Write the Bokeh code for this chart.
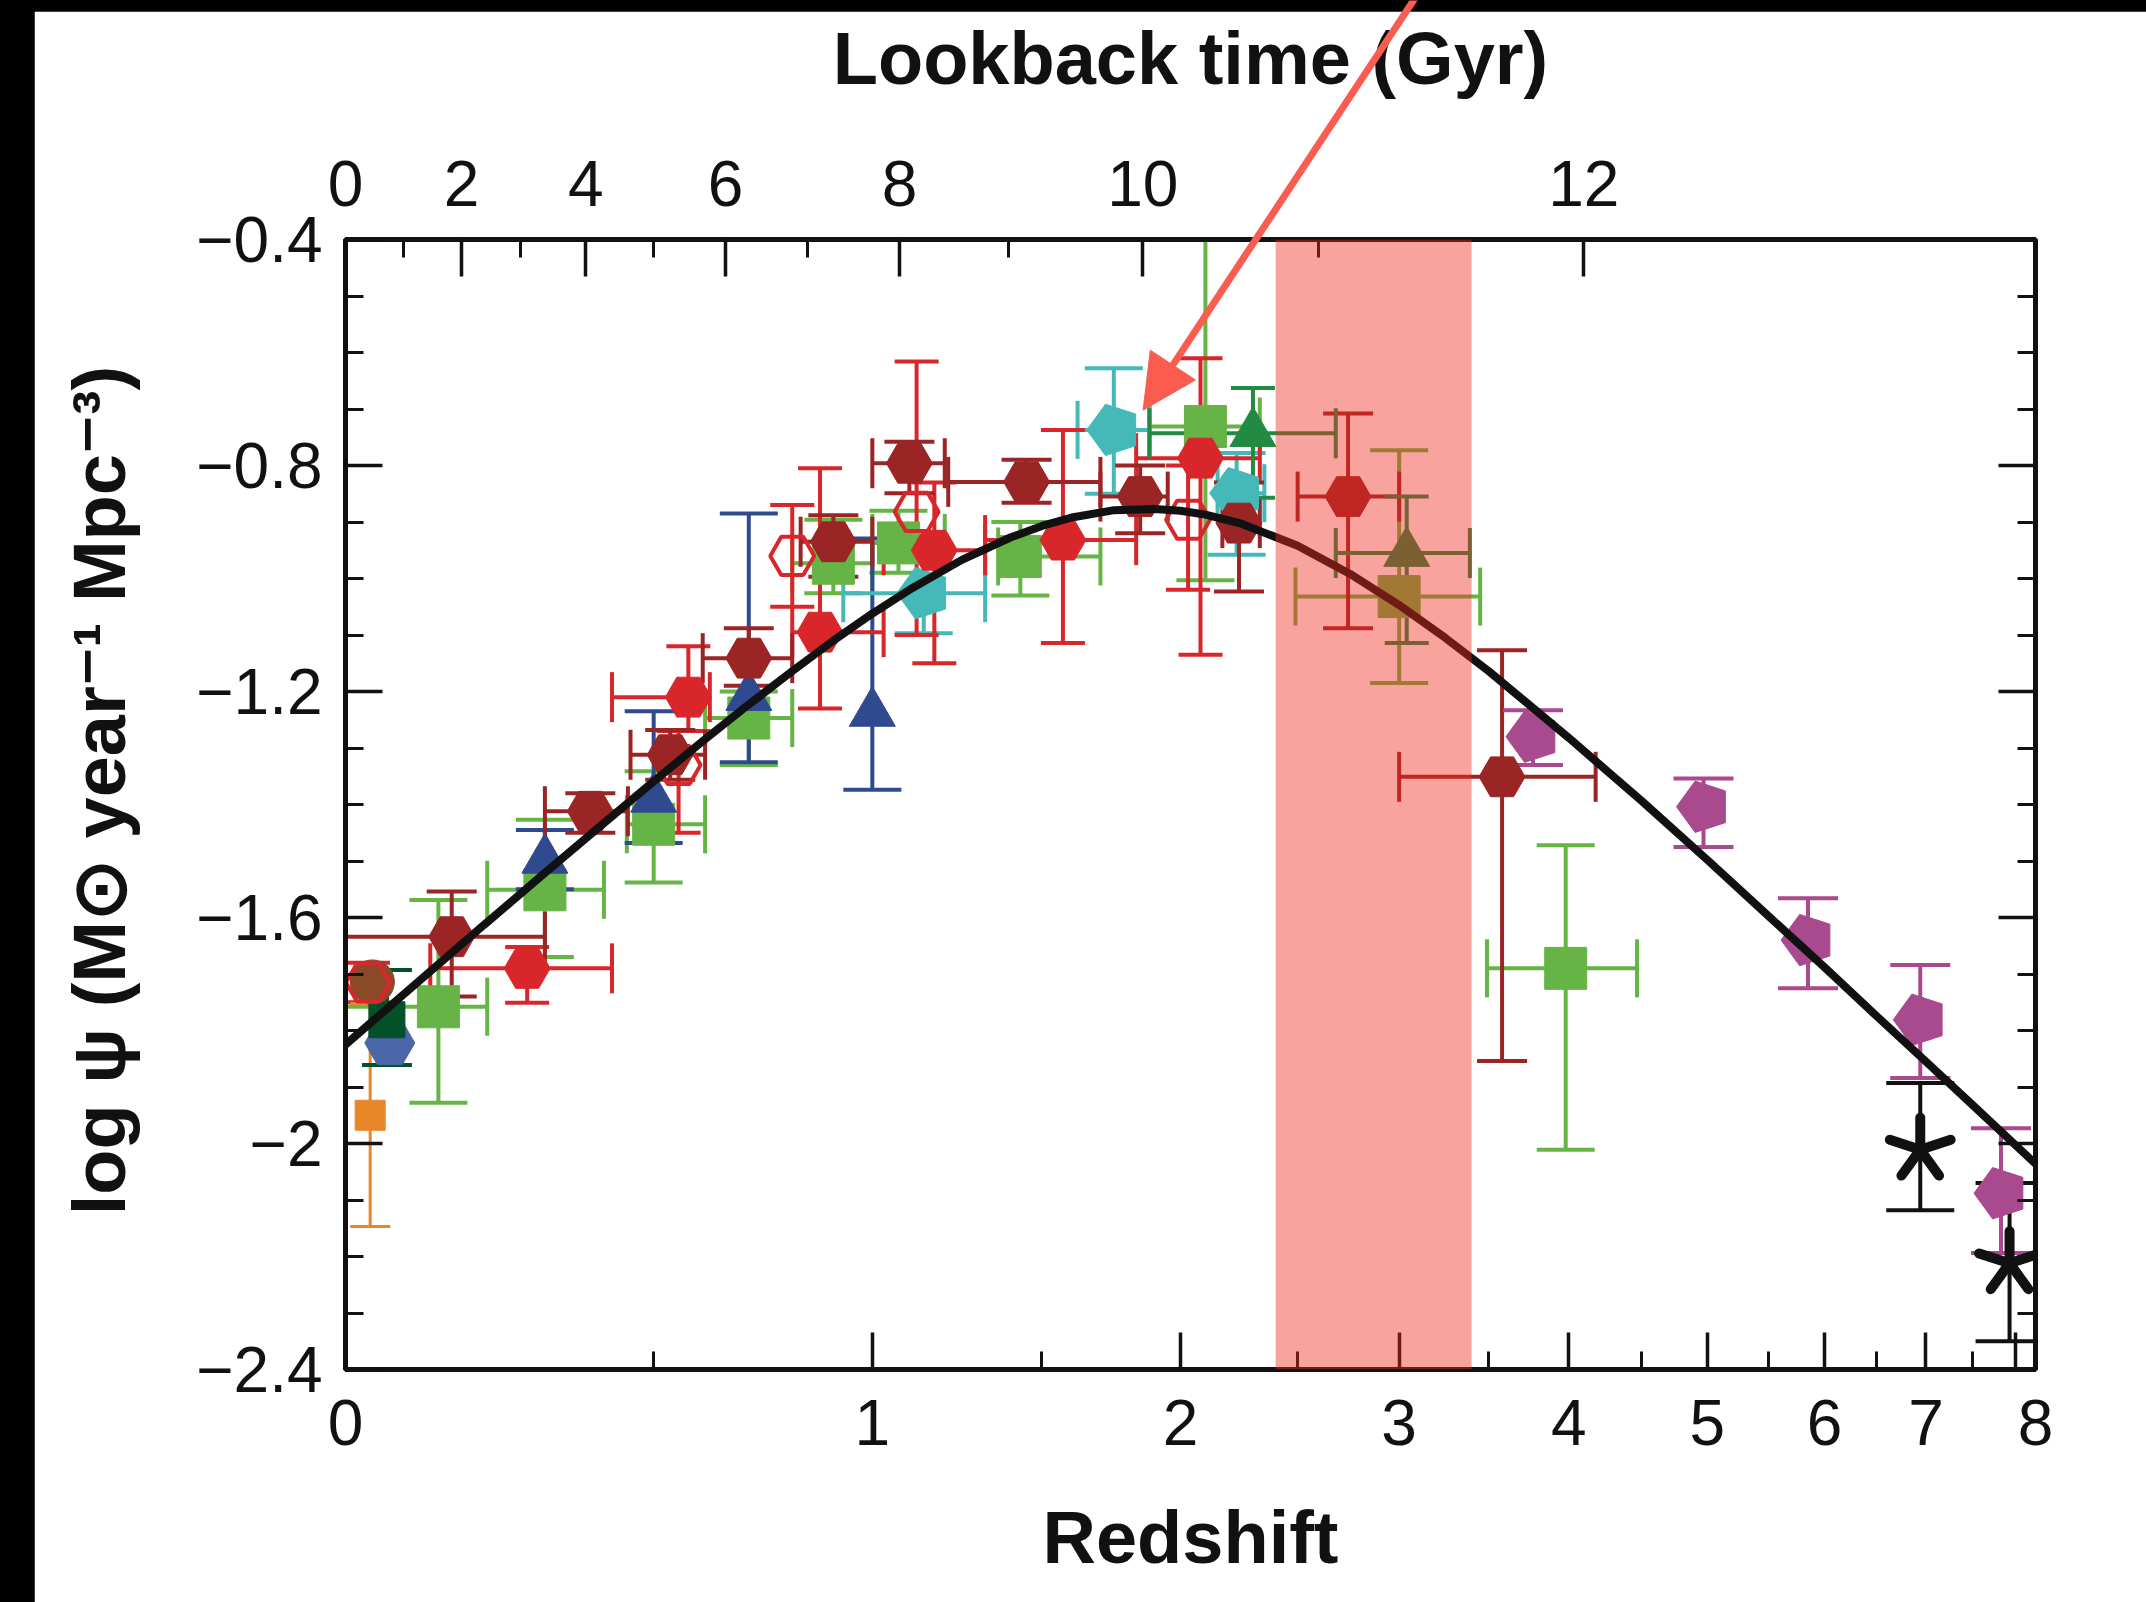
import numpy as np
from bokeh.plotting import figure
from bokeh.models import Range1d, LinearAxis, FixedTicker, BoxAnnotation, Arrow, NormalHead
from bokeh.layouts import row
from bokeh.embed import file_html
from bokeh.resources import INLINE

# ---------------- data (redshift z, log psi, error-bar ends) ----------------
# dark red filled hexagons
DKRED_Z = [0.15, 0.38, 0.533, 0.70, 0.90, 1.10, 1.45, 1.845, 2.24, 2.74, 3.58]
DKRED_PSI = [-1.634, -1.412, -1.312, -1.141, -0.935, -0.796, -0.829, -0.855, -0.902, -0.855, -1.351]
DKRED_Z_LO = [0.0, 0.30, 0.455, 0.60, 0.82, 1.0, 1.21, 1.70, 2.17, 2.5, 3.0]
DKRED_Z_HI = [0.30, 0.45, 0.605, 0.80, 1.0, 1.2, 1.70, 1.95, 2.33, 3.0, 4.18]
DKRED_PSI_LO = [-1.74, -1.45, -1.356, -1.19, -0.997, -0.849, -0.866, -0.92, -1.023, -1.088, -1.854]
DKRED_PSI_HI = [-1.554, -1.38, -1.268, -1.088, -0.888, -0.758, -0.79, -0.80, -0.83, -0.708, -1.127]

# red filled hexagons
RED_Z = [0.27, 0.57, 0.867, 1.17, 1.57, 2.08]
RED_PSI = [-1.69, -1.21, -1.095, -0.95, -0.932, -0.787]
RED_Z_LO = [0.118, 0.42, 0.80, 1.03, 1.32, 1.83]
RED_Z_HI = [0.42, 0.615, 1.03, 1.32, 1.83, 2.33]
RED_PSI_LO = [-1.751, -1.27, -1.23, -1.15, -1.114, -1.135]
RED_PSI_HI = [-1.652, -1.12, -0.805, -0.83, -0.737, -0.61]

# red open hexagons
REDOPEN_Z = [0.03, 0.55, 0.80, 1.12, 2.03]
REDOPEN_PSI = [-1.715, -1.33, -0.96, -0.882, -0.896]
REDOPEN_PSI_LO = [-1.75, -1.45, -1.05, -1.10, -1.02]
REDOPEN_PSI_HI = [-1.68, -1.27, -0.87, -0.616, -0.80]

# green squares
GREEN_Z = [0.13, 0.30, 0.50, 0.70, 0.90, 1.07, 1.43, 2.10, 3.0, 3.98]
GREEN_PSI = [-1.758, -1.551, -1.435, -1.247, -0.973, -0.937, -0.961, -0.731, -1.032, -1.69]
GREEN_Z_LO = [0.0, 0.205, 0.448, 0.605, 0.80, 1.0, 1.36, 1.88, 2.49, 3.49]
GREEN_Z_HI = [0.205, 0.405, 0.605, 0.80, 1.0, 1.2, 1.70, 2.33, 3.45, 4.47]
GREEN_PSI_LO = [-1.928, -1.67, -1.538, -1.33, -1.026, -0.99, -1.03, -1.003, -1.185, -2.011]
GREEN_PSI_HI = [-1.569, -1.427, -1.341, -1.2, -0.896, -0.88, -0.90, -0.35, -0.773, -1.472]

# blue triangles
BLUE_Z = [0.30, 0.50, 0.70, 1.0]
BLUE_PSI = [-1.498, -1.39, -1.21, -1.238]
BLUE_PSI_LO = [-1.55, -1.468, -1.325, -1.374]
BLUE_PSI_HI = [-1.445, -1.235, -0.885, -0.929]

# cyan pentagons
CYAN_Z = [1.14, 1.748, 2.23]
CYAN_PSI = [-1.026, -0.737, -0.849]
CYAN_Z_LO = [0.925, 1.62, 2.15]
CYAN_Z_HI = [1.32, 1.88, 2.35]
CYAN_PSI_LO = [-1.097, -0.85, -0.958]
CYAN_PSI_HI = [-0.96, -0.628, -0.778]

# dark green triangles
DKGREEN_Z = [2.30, 3.04]
DKGREEN_PSI = [-0.743, -0.955]
DKGREEN_Z_LO = [1.88, 2.68]
DKGREEN_Z_HI = [2.68, 3.39]
DKGREEN_PSI_LO = [-0.857, -1.114]
DKGREEN_PSI_HI = [-0.663, -0.855]

# magenta pentagons (UV, high z)
MAG_Z = [3.77, 4.97, 5.85, 6.94, 7.83]
MAG_PSI = [-1.28, -1.404, -1.64, -1.781, -2.088]
MAG_PSI_LO = [-1.33, -1.475, -1.725, -1.884, -2.194]
MAG_PSI_HI = [-1.233, -1.354, -1.566, -1.684, -1.973]

# black asterisks
STAR_Z = [6.94, 7.93]
STAR_PSI = [-2.011, -2.212]
STAR_PSI_LO = [-2.118, -2.35]
STAR_PSI_HI = [-1.893, -2.07]

# local (z ~ 0) measurements
ORANGE_Z = [0.033]
ORANGE_PSI = [-1.95]
ORANGE_PSI_LO = [-2.147]
ORANGE_PSI_HI = [-1.752]
DKGSQ_Z = [0.056]
DKGSQ_PSI = [-1.781]
DKGSQ_PSI_LO = [-1.861]
DKGSQ_PSI_HI = [-1.693]
BROWN_Z = [0.036]
BROWN_PSI = [-1.714]
STEEL_Z = [0.06]
STEEL_PSI = [-1.822]

# best-fit star formation history
CURVE_Z = [0, 0.1, 0.2, 0.3, 0.4, 0.5, 0.6, 0.7, 0.8, 0.9, 1.0, 1.1, 1.25, 1.4, 1.5,
           1.6, 1.75, 1.9, 2.0, 2.1, 2.25, 2.5, 2.75, 3.0, 3.25, 3.5, 4.0, 4.5, 5.0,
           5.5, 6.0, 6.5, 7.0, 7.5, 8.0, 8.3]
CURVE_PSI = [-1.825, -1.714, -1.613, -1.521, -1.437, -1.359, -1.288, -1.223, -1.164,
             -1.110, -1.062, -1.020, -0.967, -0.927, -0.907, -0.892, -0.879, -0.877,
             -0.880, -0.887, -0.903, -0.942, -0.992, -1.047, -1.105, -1.164, -1.282,
             -1.393, -1.498, -1.597, -1.688, -1.775, -1.855, -1.931, -2.003, -2.044]

# highlighted redshift interval
BAND_Z = [2.4, 3.4]

# axes
Z_TICKS = [0, 1, 2, 3, 4, 5, 6, 7, 8]
Z_MINOR = [0.5, 1.5, 2.5, 3.5, 4.5, 5.5, 6.5, 7.5]
Z_MAX = 8.24
PSI_MIN, PSI_MAX = -2.4, -0.4
PSI_TICKS = [-2.4, -2.0, -1.6, -1.2, -0.8, -0.4]
PSI_TICK_LABELS = ["\u22122.4", "\u22122", "\u22121.6", "\u22121.2", "\u22120.8", "\u22120.4"]
PSI_MINOR = [-2.3, -2.2, -2.1, -1.9, -1.8, -1.7, -1.5, -1.4, -1.3, -1.1, -1.0, -0.9, -0.7, -0.6, -0.5]
LOOKBACK_GYR = [0, 2, 4, 6, 8, 10, 12]
LOOKBACK_Z = [0.0, 0.165, 0.372, 0.649, 1.073, 1.855, 4.10]
LOOKBACK_MINOR_Z = [0.080, 0.259, 0.499, 0.837, 1.393, 2.595]

# arrow annotation pointing at the z ~ 1.8 pentagon; the tail lies above the frame
ARROW_TAIL = (3.09, 0.03)
ARROW_TIP = (1.856, -0.702)


def lx(z):
    return np.log10(1.0 + np.asarray(z, dtype=float))


def rnd(v):
    return [round(float(t), 6) for t in v]


# canvas geometry (pixels)
W, H = 2112, 1591
OFF_LEFT, OFF_TOP = 34, 11
BL, BR, BT, BB = 311, 111, 228, 233
FRAME_W, FRAME_H = W - BL - BR, H - BT - BB
X_MAX = round(float(lx(Z_MAX)), 6)

p = figure(width=W, height=H, x_range=Range1d(0, X_MAX), y_range=Range1d(PSI_MIN, PSI_MAX),
           output_backend="svg", toolbar_location=None,
           min_border_left=BL, min_border_right=BR, min_border_top=BT, min_border_bottom=BB)
p.grid.visible = False
p.outline_line_color = "#111111"
p.outline_line_width = 5
p.background_fill_color = "white"
p.border_fill_color = "white"

INK = "#111111"
FONT = "Liberation Sans"


def style_axis(ax):
    ax.axis_line_width = 5
    ax.axis_line_color = INK
    ax.major_tick_line_width = 3.5
    ax.minor_tick_line_width = 3
    ax.major_tick_line_color = INK
    ax.minor_tick_line_color = INK
    ax.major_tick_in = 37
    ax.major_tick_out = 0
    ax.minor_tick_in = 18
    ax.minor_tick_out = 0
    ax.major_label_text_font = FONT
    ax.major_label_text_font_size = "64px"
    ax.major_label_text_color = INK
    ax.axis_label_text_font = FONT
    ax.axis_label_text_font_style = "bold"
    ax.axis_label_text_font_size = "74px"
    ax.axis_label_text_color = INK


# bottom axis: redshift on a log(1+z) scale
xb = p.xaxis[0]
zt = rnd(lx(Z_TICKS)) + [X_MAX]
xb.ticker = FixedTicker(ticks=zt, minor_ticks=rnd(lx(Z_MINOR)))
ov = {t: str(z) for t, z in zip(zt[:-2], Z_TICKS[:-1])}
ov[zt[-2]] = ""
ov[X_MAX] = str(Z_TICKS[-1])
xb.major_label_overrides = ov
xb.axis_label = "Redshift"
style_axis(xb)
xb.major_label_standoff = 30
xb.axis_label_standoff = 48

# left axis
yl = p.yaxis[0]
yl.ticker = FixedTicker(ticks=PSI_TICKS, minor_ticks=PSI_MINOR)
yl.major_label_overrides = {t: s for t, s in zip(PSI_TICKS, PSI_TICK_LABELS)}
yl.axis_label = "log \u03c8 (M\u2299 year\u207b\u00b9 Mpc\u207b\u00b3)"
style_axis(yl)
yl.major_label_standoff = 23
yl.axis_label_standoff = 52

# top axis: lookback time
lt = rnd(lx(LOOKBACK_Z))
xt = LinearAxis(ticker=FixedTicker(ticks=lt, minor_ticks=rnd(lx(LOOKBACK_MINOR_Z))),
                major_label_overrides={t: str(g) for t, g in zip(lt, LOOKBACK_GYR)},
                axis_label="Lookback time (Gyr)")
style_axis(xt)
xt.major_label_standoff = 34
xt.axis_label_standoff = 58
p.add_layout(xt, "above")

# right axis: ticks only
yr = LinearAxis(ticker=FixedTicker(ticks=PSI_TICKS, minor_ticks=PSI_MINOR))
style_axis(yr)
yr.major_label_text_color = None
yr.major_label_text_font_size = "1px"
p.add_layout(yr, "right")


def errbars(z, psi, lo, hi, color, cap, zlo=None, zhi=None, xcap=None, lw=4):
    x = lx(z)
    p.segment(x, lo, x, hi, line_color=color, line_width=lw)
    p.scatter(np.concatenate([x, x]), np.concatenate([lo, hi]), marker="dash", size=cap,
              line_color=color, line_width=lw, fill_color=None)
    if zlo is not None:
        xl, xh = lx(zlo), lx(zhi)
        p.segment(xl, psi, xh, psi, line_color=color, line_width=lw)
        p.scatter(np.concatenate([xl, xh]), list(psi) + list(psi), marker="dash", size=xcap or cap,
                  angle=np.pi / 2, line_color=color, line_width=lw, fill_color=None)


def pentagons(z, psi, color, radius=27):
    x = lx(z)
    if hasattr(p, "ngon"):
        p.ngon(x=x, y=psi, radius=radius, radius_units="screen", n=5, angle=np.pi / 2,
               fill_color=color, line_color=color)
    else:
        sx = FRAME_W / X_MAX
        sy = FRAME_H / (PSI_MAX - PSI_MIN)
        a = np.deg2rad(90 + 72 * np.arange(5))
        xs = [list(xx + radius * np.cos(a) / sx) for xx in x]
        ys = [list(yy + radius * np.sin(a) / sy) for yy in psi]
        p.patches(xs, ys, fill_color=color, line_color=color)


C_DKRED = "#9b2425"
C_RED = "#d8262b"
C_GREEN = "#66b446"
C_BLUE = "#2f4a8e"
C_CYAN = "#45b9b8"
C_DKGREEN = "#238a44"
C_MAG = "#a9498e"
C_ORANGE = "#e8872a"
C_DKGSQ = "#02512b"
C_BROWN = "#8a4a28"
C_STEEL = "#4a65a8"

# error bars
errbars(GREEN_Z, GREEN_PSI, GREEN_PSI_LO, GREEN_PSI_HI, C_GREEN, 58, GREEN_Z_LO, GREEN_Z_HI, 58)
errbars(BLUE_Z, BLUE_PSI, BLUE_PSI_LO, BLUE_PSI_HI, C_BLUE, 58)
errbars(CYAN_Z, CYAN_PSI, CYAN_PSI_LO, CYAN_PSI_HI, C_CYAN, 58, CYAN_Z_LO, CYAN_Z_HI, 58)
errbars(REDOPEN_Z, REDOPEN_PSI, REDOPEN_PSI_LO, REDOPEN_PSI_HI, C_RED, 44)
errbars(RED_Z, RED_PSI, RED_PSI_LO, RED_PSI_HI, C_RED, 44, RED_Z_LO, RED_Z_HI, 50)
errbars(DKRED_Z, DKRED_PSI, DKRED_PSI_LO, DKRED_PSI_HI, C_DKRED, 50, DKRED_Z_LO, DKRED_Z_HI, 50)
errbars(DKGREEN_Z, DKGREEN_PSI, DKGREEN_PSI_LO, DKGREEN_PSI_HI, C_DKGREEN, 44, DKGREEN_Z_LO, DKGREEN_Z_HI, 50)
errbars(MAG_Z, MAG_PSI, MAG_PSI_LO, MAG_PSI_HI, C_MAG, 60)
errbars(STAR_Z, STAR_PSI, STAR_PSI_LO, STAR_PSI_HI, INK, 68)
errbars(ORANGE_Z, ORANGE_PSI, ORANGE_PSI_LO, ORANGE_PSI_HI, C_ORANGE, 40, lw=3)
errbars(DKGSQ_Z, DKGSQ_PSI, DKGSQ_PSI_LO, DKGSQ_PSI_HI, C_DKGSQ, 50)

# markers
p.scatter(lx(ORANGE_Z), ORANGE_PSI, marker="square", size=30, fill_color=C_ORANGE, line_color=C_ORANGE)
p.scatter(lx(STEEL_Z), STEEL_PSI, marker="hex", size=50, fill_color=C_STEEL, line_color=C_STEEL)
p.scatter(lx(DKGSQ_Z), DKGSQ_PSI, marker="square", size=36, fill_color=C_DKGSQ, line_color=C_DKGSQ)
p.scatter(lx(BROWN_Z), BROWN_PSI, marker="circle", size=44, fill_color=C_BROWN, line_color=C_BROWN)
p.scatter(lx(GREEN_Z), GREEN_PSI, marker="square", size=42, fill_color=C_GREEN, line_color=C_GREEN)
p.scatter(lx(BLUE_Z), BLUE_PSI, marker="triangle", size=46, fill_color=C_BLUE, line_color=C_BLUE)
pentagons(CYAN_Z, CYAN_PSI, C_CYAN)
p.scatter(lx(REDOPEN_Z), REDOPEN_PSI, marker="hex", size=44, fill_color=None, line_color=C_RED, line_width=4)
p.scatter(lx(RED_Z), RED_PSI, marker="hex", size=46, fill_color=C_RED, line_color=C_RED)
p.scatter(lx(DKRED_Z), DKRED_PSI, marker="hex", size=46, fill_color=C_DKRED, line_color=C_DKRED)
p.scatter(lx(DKGREEN_Z), DKGREEN_PSI, marker="triangle", size=46, fill_color=C_DKGREEN, line_color=C_DKGREEN)
pentagons(MAG_Z, MAG_PSI, C_MAG)

# five-armed asterisks
for ang in (90, 18, 162, 234, 306):
    p.ray(lx(STAR_Z), STAR_PSI, length=32, length_units="screen", angle=ang, angle_units="deg",
          line_color=INK, line_width=10, line_cap="round")

# best-fit curve
p.line(lx(CURVE_Z), CURVE_PSI, line_color=INK, line_width=8)

# translucent redshift band drawn over the data
p.add_layout(BoxAnnotation(left=float(lx(BAND_Z[0])), right=float(lx(BAND_Z[1])),
                           fill_color="#f02a1e", fill_alpha=0.43, line_color=None))

# transparent overlay (a separate root, pinned to the page's top edge) with the same
# data scale, whose frame covers the whole canvas so the arrow can run off the top
ux = X_MAX / FRAME_W
uy = (PSI_MAX - PSI_MIN) / FRAME_H
ov_fig = figure(title=None, width=W, height=H + OFF_TOP,
                x_range=Range1d(-BL * ux, X_MAX + BR * ux),
                y_range=Range1d(PSI_MIN - BB * uy, PSI_MAX + (BT + OFF_TOP) * uy),
                output_backend="svg", toolbar_location=None,
                min_border=0, min_border_left=0, min_border_right=0,
                min_border_top=0, min_border_bottom=0,
                x_axis_type=None, y_axis_type=None,
                styles={"position": "absolute", "left": f"{OFF_LEFT}px", "top": "0px",
                        "pointer-events": "none"})
ov_fig.grid.visible = False
ov_fig.outline_line_color = None
ov_fig.background_fill_alpha = 0
ov_fig.border_fill_alpha = 0

ARROW_C = "#fa5c50"
ov_fig.add_layout(Arrow(end=NormalHead(size=54, fill_color=ARROW_C, line_color=ARROW_C, line_width=1),
                        x_start=float(lx(ARROW_TAIL[0])), y_start=ARROW_TAIL[1],
                        x_end=float(lx(ARROW_TIP[0])), y_end=ARROW_TIP[1],
                        line_color=ARROW_C, line_width=7))

p.margin = (OFF_TOP, 0, 0, OFF_LEFT)
page = row(p, styles={"background-color": "#000000"})

open("out.html", "w").write(file_html([page, ov_fig], INLINE))
